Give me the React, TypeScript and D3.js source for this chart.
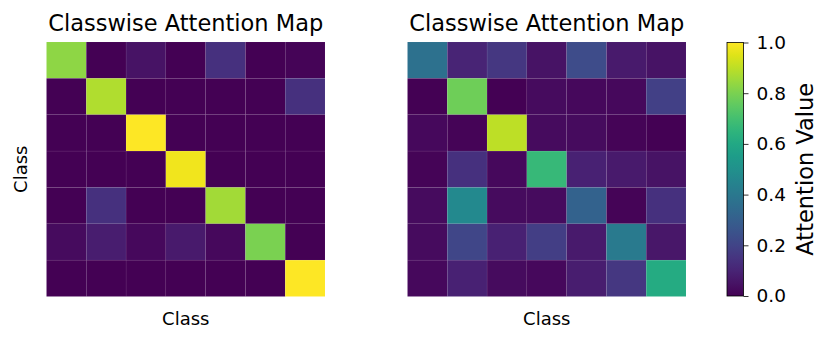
import React, { useEffect, useRef } from 'react';
import * as d3 from 'd3';

const classes = [0, 1, 2, 3, 4, 5, 6];

const leftMatrix = [
    [0.83, 0.0, 0.05, 0.0, 0.14, 0.0, 0.01],
    [0.0, 0.88, 0.0, 0.0, 0.0, 0.0, 0.14],
    [0.0, 0.0, 1.0, 0.0, 0.0, 0.0, 0.0],
    [0.0, 0.0, 0.0, 0.98, 0.0, 0.0, 0.0],
    [0.0, 0.14, 0.0, 0.0, 0.86, 0.0, 0.0],
    [0.03, 0.08, 0.02, 0.07, 0.02, 0.8, 0.0],
    [0.0, 0.0, 0.0, 0.0, 0.0, 0.0, 1.0],
];

const rightMatrix = [
    [0.37, 0.1, 0.16, 0.05, 0.23, 0.07, 0.05],
    [0.0, 0.78, 0.0, 0.03, 0.02, 0.02, 0.19],
    [0.02, 0.01, 0.9, 0.03, 0.03, 0.01, 0.0],
    [0.01, 0.14, 0.02, 0.67, 0.09, 0.07, 0.05],
    [0.03, 0.47, 0.03, 0.03, 0.31, 0.01, 0.14],
    [0.03, 0.21, 0.09, 0.18, 0.07, 0.41, 0.06],
    [0.02, 0.09, 0.03, 0.02, 0.08, 0.16, 0.61],
];

const colorTicks = [0.0, 0.2, 0.4, 0.6, 0.8, 1.0];

const title = 'Classwise Attention Map';
const font = 'DejaVu Sans, sans-serif';

const App = () => {
    const ref = useRef<SVGSVGElement>(null);

    useEffect(() => {
        const svg = d3.select(ref.current);
        svg.selectAll('*').remove();

        const color = d3.scaleSequential(d3.interpolateViridis).domain([0, 1]);
        const top = 42, bottom = 296.5;

        const drawMap = (matrix: number[][], left: number, right: number, showY: boolean) => {
            const x = d3.scaleBand<number>().domain(classes).range([left, right]);
            const y = d3.scaleBand<number>().domain(classes).range([top, bottom]);
            const g = svg.append('g');
            matrix.forEach((row, i) => {
                g.selectAll(null)
                    .data(row)
                    .enter().append('rect')
                    .attr('x', (_, j) => x(j)!)
                    .attr('y', y(i)!)
                    .attr('width', x.bandwidth())
                    .attr('height', y.bandwidth())
                    .attr('fill', d => color(d))
                    .attr('stroke', 'rgba(255,255,255,0.07)')
                    .attr('stroke-width', 0.6);
            });
            svg.append('text')
                .attr('x', (left + right) / 2)
                .attr('y', 31)
                .attr('text-anchor', 'middle')
                .style('font-family', font)
                .style('font-size', '22.5px')
                .text(title);
            svg.append('text')
                .attr('x', (left + right) / 2)
                .attr('y', 325)
                .attr('text-anchor', 'middle')
                .style('font-family', font)
                .style('font-size', '18px')
                .text('Class');
            if (showY) {
                svg.append('text')
                    .attr('transform', `translate(27,${(top + bottom) / 2}) rotate(-90)`)
                    .attr('text-anchor', 'middle')
                    .style('font-family', font)
                    .style('font-size', '18px')
                    .text('Class');
            }
        };

        drawMap(leftMatrix, 46.5, 325, true);
        drawMap(rightMatrix, 407.5, 686, false);

        // colorbar
        const cbLeft = 727, cbWidth = 16.5;
        const cy = d3.scaleLinear().domain([0, 1]).range([296, 42.5]);
        const defs = svg.append('defs');
        const grad = defs.append('linearGradient')
            .attr('id', 'cb')
            .attr('x1', 0).attr('y1', 1).attr('x2', 0).attr('y2', 0);
        d3.range(0, 1.0001, 0.05).forEach(t => {
            grad.append('stop').attr('offset', t).attr('stop-color', color(t));
        });
        svg.append('rect')
            .attr('x', cbLeft)
            .attr('y', cy(1))
            .attr('width', cbWidth)
            .attr('height', cy(0) - cy(1))
            .attr('fill', 'url(#cb)')
            .attr('stroke', 'black')
            .attr('stroke-width', 0.8);

        const axis = svg.append('g')
            .attr('transform', `translate(${cbLeft + cbWidth},0)`)
            .call(d3.axisRight(cy).tickValues(colorTicks).tickFormat(d3.format('.1f')).tickSize(5).tickPadding(8));
        axis.select('.domain').remove();
        axis.selectAll('text')
            .style('font-family', font)
            .style('font-size', '18.5px')
            .attr('fill', 'black');
        axis.selectAll('line').attr('stroke', 'black').attr('stroke-width', 0.8);

        svg.append('text')
            .attr('transform', `translate(813,${(cy(0) + cy(1)) / 2}) rotate(-90)`)
            .attr('text-anchor', 'middle')
            .style('font-family', font)
            .style('font-size', '22.5px')
            .text('Attention Value');
    }, []);

    return (
        <svg
            ref={ref}
            width={831}
            height={343}
            style={{ position: 'absolute', left: 0, top: 0, background: 'white' }}
        />
    );
};

export default App;
